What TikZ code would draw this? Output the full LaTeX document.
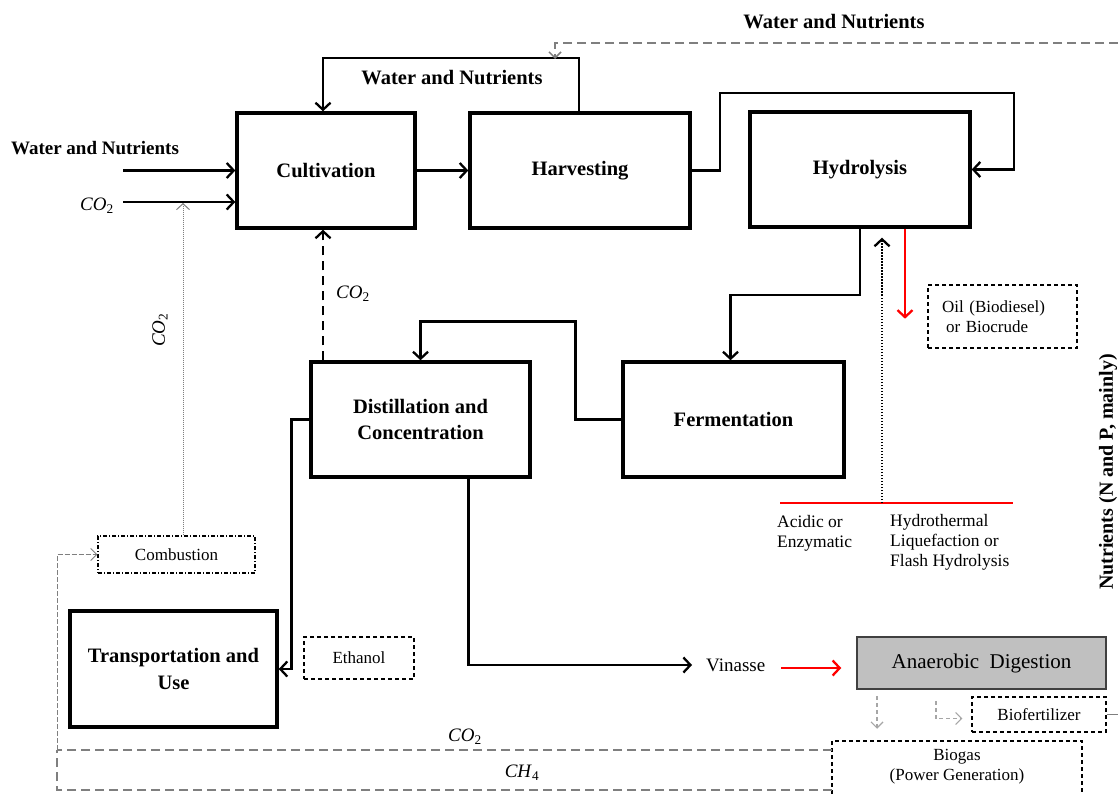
\documentclass[tikz,border=0pt]{standalone}
\usepackage{fontspec}
\setmainfont{Liberation Serif}
\usetikzlibrary{arrows.meta,calc}
\definecolor{adfill}{HTML}{C0C0C0}
\definecolor{adline}{HTML}{404040}
\definecolor{lnkgray}{HTML}{7F7F7F}
\definecolor{lightg}{HTML}{A6A6A6}
\newcommand{\cotwo}{\textit{CO}\textsubscript{2}}
\newcommand{\chfour}{\textit{CH}\textsubscript{4}}
\begin{document}
\begin{tikzpicture}[x=1pt,y=-1pt,
  box/.style={draw, line width=3.4pt, align=center, inner sep=0pt,
    font=\fontsize{20.5}{26}\selectfont\bfseries},
  barb/.tip={Straight Barb[length=7pt,width=15pt,line width=2.3pt]},
  conn/.style={line width=2.4pt, -barb},
  dbox/.style={draw, dash pattern=on 4pt off 3pt, line width=1.1pt, inner sep=0pt,
    font=\fontsize{17}{20}\selectfont},
  txt/.style={font=\fontsize{17}{20}\selectfont, inner sep=0pt},
  lbl/.style={font=\fontsize{20.5}{22}\selectfont\bfseries, inner sep=0pt},
  co/.style={font=\fontsize{19}{20}\selectfont, inner sep=0pt},
  gdash/.style={draw=lnkgray, line width=1.8pt, dash pattern=on 9pt off 5pt},
  gthin/.style={draw=lnkgray, line width=1pt, dash pattern=on 5pt off 2pt},
  gsmall/.style={draw=lightg, line width=1.2pt, dash pattern=on 4pt off 3pt,
    -{Straight Barb[length=6pt,width=12pt,line width=1.2pt]}}
]
\useasboundingbox (0,0) rectangle (1118,794);

% main boxes
\node[box, minimum width=178pt, minimum height=115pt] (cult) at (326,170.5) {Cultivation};
\node[box, minimum width=220pt, minimum height=115pt] (harv) at (580,170.5) {Harvesting};
\node[box, minimum width=220pt, minimum height=115pt] (hydro) at (860,169.5) {Hydrolysis};
\node[box, minimum width=219pt, minimum height=115pt] (dist) at (420.5,419.5) {Distillation and\\Concentration};
\node[box, minimum width=221pt, minimum height=115pt] (ferm) at (733.5,419.5) {Fermentation};
\node[box, minimum width=207pt, minimum height=116pt, font=\fontsize{20.5}{27}\selectfont\bfseries] (trans) at (173.5,669) {Transportation and\\Use};
\node[draw=adline, fill=adfill, line width=1.5pt, minimum width=249pt, minimum height=52pt,
  inner sep=0pt, font=\fontsize{21}{24}\selectfont] (anaer) at (981.5,663) {Anaerobic\ \ Digestion};

% dashed boxes
\node[dbox, minimum width=149pt, minimum height=63pt, text width=121pt, align=left] (oil) at (1002.5,316.5) {Oil (Biodiesel)\\\hspace*{4pt}or Biocrude};
\node[dbox, dash pattern=on 4pt off 2pt on 1pt off 2pt, minimum width=157pt, minimum height=37pt] (comb) at (176.5,554.5) {Combustion};
\node[dbox, minimum width=110pt, minimum height=42pt] (eth) at (359,658) {Ethanol};
\node[dbox, minimum width=134pt, minimum height=35pt] (biofert) at (1039,714.5) {Biofertilizer};
\draw[dash pattern=on 4pt off 3pt, line width=1.1pt] (832,794) -- (832,741) -- (1082,741) -- (1082,794);
\node[txt, align=center] (biogas) at (957,767) {Biogas\\(Power Generation)};

% labels
\node[lbl] (wnT) at (834,22) {Water and Nutrients};
\node[lbl] (wnL) at (452,78) {Water and Nutrients};
\node[lbl, font=\fontsize{19}{22}\selectfont\bfseries] (wnLeft) at (95,148) {Water and Nutrients};
\node[co] (co2a) at (97,206) {\cotwo};
\node[co, rotate=90] (co2v) at (160,330) {\cotwo};
\node[co] (co2d) at (353,294) {\cotwo};
\node[co] (co2b) at (465,737) {\cotwo};
\node[co] (ch4) at (522,773) {\chfour};
\node[txt, anchor=west, align=left, font=\fontsize{17.5}{20}\selectfont] (acid) at (777,533) {Acidic or\\Enzymatic};
\node[txt, anchor=west, align=left, font=\fontsize{17.5}{20}\selectfont] (htl) at (890,542) {Hydrothermal\\Liquefaction or\\Flash Hydrolysis};
\node[lbl, rotate=90, font=\fontsize{20}{22}\selectfont\bfseries] (nutr) at (1108,472) {Nutrients (N and P, mainly)};
\node[txt, anchor=west, font=\fontsize{19}{20}\selectfont] (vinasse) at (706,665) {Vinasse};

% inputs
\coordinate (wnIn) at (123,170.5);
\coordinate (coIn) at (123,202);
\draw[conn] (wnIn) -- (cult.west);
\draw[conn] (coIn) -- (coIn -| cult.west);

% main flow
\draw[conn] (cult.east) -- (harv.west);
\draw[conn] (harv.east) -- ++(28,0) -- ++(0,-77.5) -| ($(hydro.east)+(42,0)$) -- (hydro.east);
\draw[conn] ($(harv.north)+(-1,0)$) -- ++(0,-53) -| ($(cult.north)+(-3,0)$);
\draw[conn] (hydro.south) -- ++(0,66) -| ($(ferm.north)+(-3,0)$);
\draw[conn] (ferm.west) -- ++(-46,0) |- ($(dist.north)+(0,-39)$) -- (dist.north);
\draw[conn] (dist.west) -- ++(-18,0) |- (trans.east);
\draw[conn] ($(dist.south)+(48,0)$) |- ($(vinasse.west)+(-14,0)$);
\draw[conn, dash pattern=on 9pt off 6pt] ($(cult.south |- dist.north)+(-3,0)$) -- ($(cult.south)+(-3,0)$);

% top dashed water and nutrients
\coordinate (wnTop) at (1118,43);
\coordinate (wnTopEnd) at (555,59);
\draw[gdash, -{Straight Barb[length=6pt,width=12pt,line width=1.5pt]}] (wnTop) -| (wnTopEnd);

% combustion CO2 dotted
\draw[draw=lnkgray, line width=0.9pt, dash pattern=on 1pt off 1pt,
  -{Straight Barb[length=6pt,width=13pt,line width=1pt]}] ($(comb.north)+(6.5,0)$) -- ($(coIn)+(60,1)$);

% red hydrolysis outputs
\draw[conn, red] ($(hydro.south)+(45,0)$) -- ++(0,90);
\coordinate (rl) at (780,503);
\coordinate (rr) at (1013,503);
\coordinate (rm) at (882,503);
\draw[red, line width=1.8pt] (rl) -- (rr);
\draw[line width=2.4pt, dash pattern=on 1.5pt off 1.5pt, -barb] (rm) -- ($(rm |- hydro.south)+(0,9)$);

% vinasse to digestion
\draw[conn, red] ($(vinasse.east)+(16,3)$) -- ($(anaer.west)+(-15,5)$);

% digestion outputs
\draw[gsmall] ($(anaer.south)+(-104.5,6)$) -- ++(0,33);
\draw[gsmall] ($(anaer.south)+(-45.5,11)$) |- ($(biofert.west)+(-9,4)$);
\coordinate (rEdge) at (1118,714.5);
\draw[draw=lnkgray, line width=1.2pt] (biofert.east) -- (rEdge);

% CO2 / CH4 return lines
\coordinate (bgU) at (832,750);
\coordinate (bgL) at (832,790);
\coordinate (lc) at (57,750);
\draw[gdash] (bgU) -- (lc);
\draw[gdash] (bgL) -- (bgL -| lc) -- (lc);
\draw[gthin, -{Straight Barb[length=6pt,width=12pt,line width=1pt]}] (lc) |- (comb.west);
\end{tikzpicture}
\end{document}
